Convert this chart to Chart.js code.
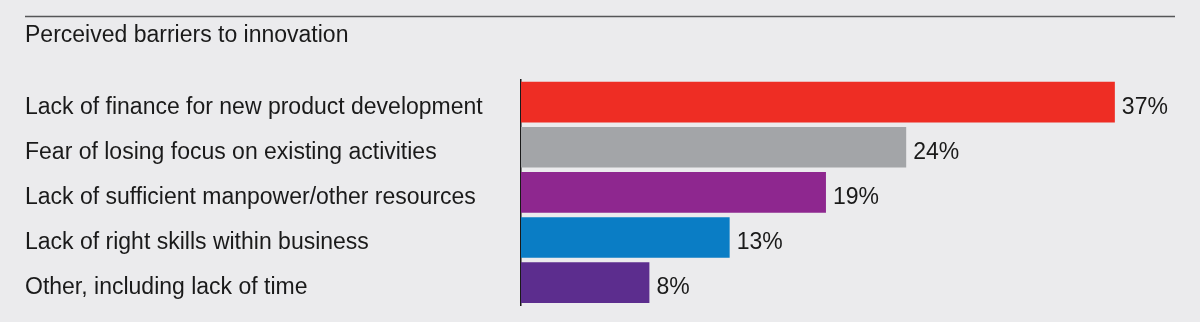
<!DOCTYPE html>
<html>
<head>
<meta charset="utf-8">
<script src="https://cdn.jsdelivr.net/npm/chart.js@4/dist/chart.umd.min.js"></script>
<style>
  html, body { margin: 0; padding: 0; background: #ebebed; }
  #wrap { width: 1200px; height: 322px; }
</style>
</head>
<body>
<div id="wrap"><canvas id="myChart" width="1200" height="322"></canvas></div>
<script>
const categories = [
  "Lack of finance for new product development",
  "Fear of losing focus on existing activities",
  "Lack of sufficient manpower/other resources",
  "Lack of right skills within business",
  "Other, including lack of time",
];
const values = [37, 24, 19, 13, 8];
const barColors = ["#ee2d24", "#a3a5a8", "#8e278f", "#0a7dc5", "#5c2d8e"];

const FONT = "'Liberation Sans', Arial, Helvetica, sans-serif";

// thin rule above the title
const topRule = {
  id: "topRule",
  beforeDraw(chart) {
    const c = chart.ctx;
    c.save();
    c.strokeStyle = "#555658";
    c.lineWidth = 1.6;
    c.beginPath();
    c.moveTo(25, 16.5);
    c.lineTo(1175, 16.5);
    c.stroke();
    c.restore();
  },
};

// percent labels at the bar ends
const valueLabels = {
  id: "valueLabels",
  afterDatasetsDraw(chart) {
    const c = chart.ctx;
    const meta = chart.getDatasetMeta(0);
    c.save();
    c.font = "23px " + FONT;
    c.fillStyle = "#1a1a1a";
    c.textAlign = "left";
    c.textBaseline = "middle";
    meta.data.forEach((bar, i) => {
      c.fillText(values[i] + "%", bar.x + 7, bar.y + 5);
    });
    c.restore();
  },
};

const ctx = document.getElementById("myChart").getContext("2d");

const myChart = new Chart(ctx, {
  type: "bar",
  data: {
    labels: categories,
    datasets: [
      {
        data: values,
        backgroundColor: barColors,
        borderWidth: 0,
        barPercentage: 0.9,
        categoryPercentage: 1,
      },
    ],
  },
  options: {
    indexAxis: "y",
    responsive: false,
    animation: false,
    layout: {
      padding: { left: 25, right: 37, top: 22, bottom: 14 },
    },
    scales: {
      x: {
        display: false,
        min: 0,
        max: 40,
      },
      y: {
        grid: { display: false },
        border: { display: true, color: "#1a1a1a", width: 1.5 },
        afterFit: (scale) => {
          scale.width = 496;
        },
        ticks: {
          crossAlign: "far",
          labelOffset: 5,
          color: "#1a1a1a",
          font: { family: FONT, size: 23 },
        },
      },
    },
    plugins: {
      legend: { display: false },
      tooltip: { enabled: false },
      title: {
        display: true,
        text: "Perceived barriers to innovation",
        align: "start",
        color: "#1a1a1a",
        font: { family: FONT, size: 23, weight: "normal" },
        padding: { top: 0, bottom: 30 },
      },
    },
  },
  plugins: [topRule, valueLabels],
});
</script>
</body>
</html>
